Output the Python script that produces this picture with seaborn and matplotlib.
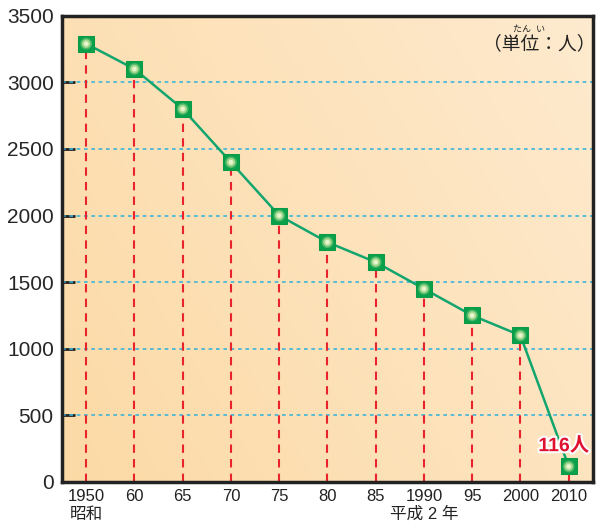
""" Line chart of population by year (Showa / Heisei) """

import numpy as np
import pandas as pd
import seaborn as sns
import matplotlib.pyplot as plt
import matplotlib.patheffects as pe

# Data
years = ["1950", "60", "65", "70", "75", "80", "85", "1990", "95", "2000", "2010"]
era_labels = {"1950": "昭和", "1990": "平成 2 年"}
people = [3290, 3100, 2800, 2400, 2000, 1800, 1650, 1450, 1250, 1100, 116]

JP = ["Liberation Sans", "Noto Sans CJK JP", "DejaVu Sans"]


def plot(df):
    """ Creates the line chart """
    fig = plt.figure(figsize=(5.97, 5.25), dpi=100)
    ax = fig.add_axes([0.104, 0.082, 0.889, 0.888])

    # Peach gradient background
    gx, gy = np.meshgrid(np.linspace(0, 1, 200), np.linspace(0, 1, 200))
    t = np.clip(0.65 * gx + 0.35 * gy, 0, 1)
    c0 = np.array([252, 218, 166]) / 255
    c1 = np.array([254, 234, 206]) / 255
    img = c0[None, None, :] * (1 - t[..., None]) + c1[None, None, :] * t[..., None]
    ax.imshow(img, extent=[0, 1, 0, 1], transform=ax.transAxes, origin="lower",
              aspect="auto", zorder=0)

    # Horizontal dotted grid
    for v in range(500, 3500, 500):
        ax.axhline(v, color="#3DB5DA", lw=1.2, ls=(0, (2.2, 2.2)), zorder=1)

    # Red dashed drop lines
    ax.vlines(df["pos"], 0, df["people"], colors="#E8232B", lw=1.5,
              linestyles=(0, (4, 3)), zorder=2)

    # Line and gradient-like square markers
    sns.lineplot(x="pos", y="people", data=df, ax=ax, color="#13A56E", lw=1.8,
                 marker="s", markersize=12, markerfacecolor="#0BA14B",
                 markeredgecolor="#0A9A48", zorder=3)
    sns.scatterplot(x="pos", y="people", data=df, ax=ax, s=70, color="#4DB86A",
                    edgecolor="none", zorder=4)
    sns.scatterplot(x="pos", y="people", data=df, ax=ax, s=38, color="#A6D98E",
                    edgecolor="none", zorder=5)
    sns.scatterplot(x="pos", y="people", data=df, ax=ax, s=12, color="#E6F4D0",
                    edgecolor="none", zorder=6)

    # Axes
    ax.set_xlim(-0.5, 10.5)
    ax.set_ylim(0, 3500)
    ax.set_xlabel("")
    ax.set_ylabel("")
    ax.set_xticks(df["pos"])
    ax.set_xticklabels([])
    ax.set_yticks(range(0, 3501, 500))
    ax.tick_params(axis="y", direction="in", length=9, width=2, labelsize=15,
                   pad=6, color="#222222")
    ax.tick_params(axis="x", length=0, pad=6)
    for lab in ax.get_yticklabels():
        lab.set_family(JP)
    for s in ax.spines.values():
        s.set_linewidth(2.5)
        s.set_color("#222222")
        s.set_zorder(10)

    # X tick labels with era names
    for p, y in zip(df["pos"], df["year"]):
        ax.text(p, -55, y, ha="center", va="top", fontsize=12, family=JP,
                color="#222222")
        if y in era_labels:
            ax.text(p, -185, era_labels[y], ha="center", va="top", fontsize=12,
                    family=JP, color="#222222")

    # Unit label with ruby
    ax.text(0.90, 0.938, "（単位：人）", transform=ax.transAxes, ha="center",
            va="center", fontsize=13.5, family=JP, color="#222222")
    ax.text(0.88, 0.970, "たん  い", transform=ax.transAxes, ha="center",
            va="center", fontsize=6.5, family=JP, color="#222222")

    # Last value annotation
    ax.text(df["pos"].iloc[-1] - 0.1, df["people"].iloc[-1] + 85,
            f"{df['people'].iloc[-1]}人", ha="center", va="bottom", fontsize=14,
            fontweight="bold", family=JP, color="#E0102F",
            path_effects=[pe.withStroke(linewidth=3, foreground="white")], zorder=7)

    plt.savefig("out.png", dpi=100)


if __name__ == "__main__":
    sns.set_style("ticks")
    plt.rcParams["font.family"] = JP
    df = pd.DataFrame({"year": years, "people": people})
    df["pos"] = range(len(years))
    plot(df)
